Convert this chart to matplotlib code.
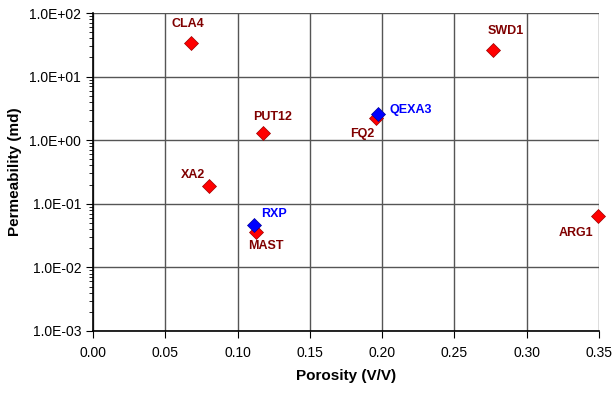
import numpy as np
import matplotlib.pyplot as plt
from matplotlib.ticker import FuncFormatter, LogLocator, MultipleLocator

plt.rcParams['font.family'] = ['Liberation Sans', 'DejaVu Sans']

# core samples: porosity (V/V) and permeability (md)
names_red = ["CLA4", "SWD1", "PUT12", "FQ2", "XA2", "MAST", "ARG1"]
por_red = [0.0676, 0.2769, 0.1178, 0.1955, 0.0805, 0.1125, 0.349]
perm_red = [33.4, 26.2, 1.28, 2.26, 0.193, 0.0356, 0.0643]

names_blue = ["QEXA3", "RXP"]
por_blue = [0.1974, 0.1116]
perm_blue = [2.55, 0.0465]

# label offsets in pixels (dx, dy, ha)
offs = {
    "CLA4": (-3, 19, "center"), "SWD1": (12, 19, "center"),
    "PUT12": (9, 16, "center"), "FQ2": (-13, -16, "center"),
    "XA2": (-16, 11, "center"), "MAST": (10, -14, "center"),
    "ARG1": (-22, -17, "center"), "QEXA3": (11, 4, "left"),
    "RXP": (20, 11, "center"),
}

fig = plt.figure(figsize=(6.13, 3.94), dpi=100)
ax = fig.add_axes([0.1517, 0.160, 0.8254, 0.807])

ax.set_yscale("log")
ax.set_xlim(0, 0.35)
ax.set_ylim(1e-3, 1e2)
ax.grid(True, which="major", color="#555555", lw=1)
ax.set_axisbelow(True)

ax.plot(por_red, perm_red, "D", ms=7.5, mfc="#ff0000", mec="#990000", mew=0.5,
        ls="none", clip_on=False)
ax.plot(por_blue, perm_blue, "D", ms=7.5, mfc="#0000ff", mec="#000099", mew=0.5,
        ls="none", clip_on=False)

for n, x, y in zip(names_red, por_red, perm_red):
    dx, dy, ha = offs[n]
    ax.annotate(n, (x, y), xytext=(dx, dy), textcoords="offset pixels",
                ha=ha, va="center", color="#800000", fontsize=9, fontweight="bold")
for n, x, y in zip(names_blue, por_blue, perm_blue):
    dx, dy, ha = offs[n]
    ax.annotate(n, (x, y), xytext=(dx, dy), textcoords="offset pixels",
                ha=ha, va="center", color="#0000ff", fontsize=9, fontweight="bold")

ax.xaxis.set_major_locator(MultipleLocator(0.05))
ax.xaxis.set_major_formatter(FuncFormatter(lambda v, p: f"{v:.2f}"))
ax.yaxis.set_major_locator(LogLocator(base=10))
ax.yaxis.set_minor_locator(LogLocator(base=10, subs=np.arange(2, 10)))
ax.yaxis.set_major_formatter(FuncFormatter(lambda v, p: f"{v:.1E}"))
ax.tick_params(which="both", direction="out", color="black", labelsize=10)
ax.tick_params(which="major", length=5)
ax.tick_params(which="minor", length=3)
ax.tick_params(axis="x", pad=6)

for s in ["top", "right"]:
    ax.spines[s].set_visible(False)
ax.spines["left"].set_linewidth(1.2)
ax.spines["bottom"].set_linewidth(1.2)

ax.set_xlabel("Porosity (V/V)", fontsize=11, fontweight="bold", labelpad=6)
ax.set_ylabel("Permeability (md)", fontsize=11, fontweight="bold", labelpad=5)

fig.savefig("out.png", dpi=100)
